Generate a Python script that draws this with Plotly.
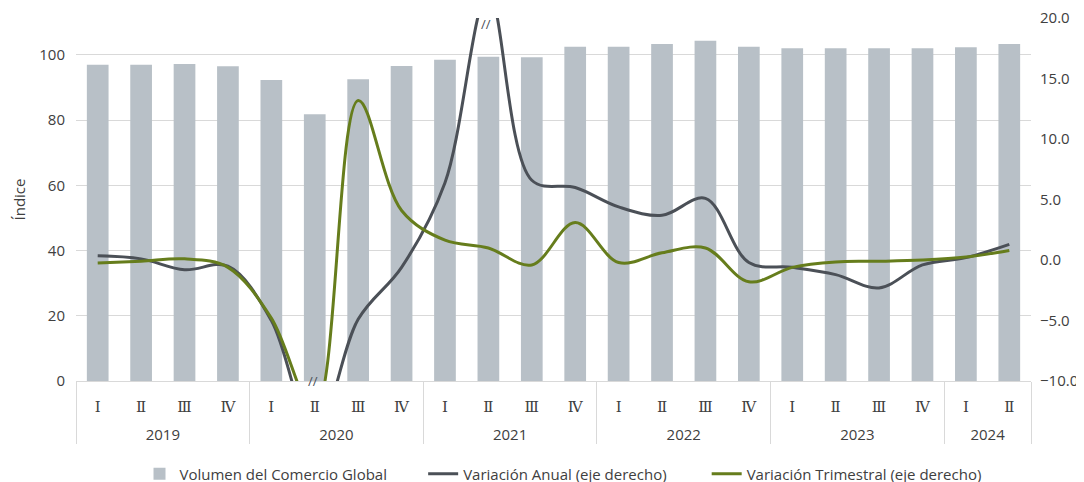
import plotly.graph_objects as go

years = ["2019"] * 4 + ["2020"] * 4 + ["2021"] * 4 + ["2022"] * 4 + ["2023"] * 4 + ["2024"] * 2
quarter_names = ["Ⅰ", "Ⅱ", "Ⅲ", "Ⅳ"] * 5 + ["Ⅰ", "Ⅱ"]

volumen = [97.0, 97.0, 97.2, 96.5, 92.3, 81.8, 92.5, 96.6, 98.5, 99.4, 99.3, 102.5,
           102.5, 103.3, 104.3, 102.5, 102.0, 102.0, 102.0, 102.0, 102.3, 103.3]
var_anual = [0.35, 0.1, -0.8, -0.5, -5.0, -14.5, -4.9, -0.6, 6.4, 22.0, 6.6, 6.0,
             4.4, 3.7, 5.1, -0.2, -0.6, -1.2, -2.3, -0.4, 0.2, 1.3]
var_trim = [-0.25, -0.1, 0.1, -0.6, -4.8, -12.5, 13.2, 4.1, 1.65, 1.0, -0.4, 3.1,
            -0.2, 0.6, 1.0, -1.8, -0.6, -0.15, -0.1, 0.0, 0.25, 0.8]
right_ticks = [-10, -5, 0, 5, 10, 15, 20]

quarters = ['<span style="font-family:DejaVu Serif">%s</span>' % q for q in quarter_names]
year_labels = ["<br>" + y for y in years]
x = [year_labels, quarters]
txt = "#404040"
nb = "\u00a0"

fig = go.Figure()
fig.add_trace(go.Bar(x=x, y=volumen, name="Volumen del Comercio Global" + nb * 8,
                     marker=dict(color="#B8C0C7", line=dict(width=0))))
fig.add_trace(go.Scatter(x=x, y=var_anual, name="Variación Anual (eje derecho)" + nb * 9, yaxis="y2",
                         mode="lines", line=dict(color="#4B5057", width=3, shape="spline", smoothing=1.0)))
fig.add_trace(go.Scatter(x=x, y=var_trim, name="Variación Trimestral (eje derecho)", yaxis="y2",
                         mode="lines", line=dict(color="#667D1C", width=3, shape="spline", smoothing=1.0)))

# axis break marks
fig.add_annotation(x=8.95, y=19.55, xref="x", yref="y2", text="//", showarrow=False,
                   font=dict(size=13, color="#4B5057"), yanchor="middle")
fig.add_annotation(x=4.95, y=-10, xref="x", yref="y2", text="//", showarrow=False,
                   font=dict(size=13, color="#4B5057"), yanchor="middle")

# page body has an 8px default margin: offsets below compensate
fig.update_layout(
    width=1084, height=482,
    margin=dict(l=68, r=61, t=10, b=109),
    paper_bgcolor="white", plot_bgcolor="white",
    font=dict(family="Open Sans, sans-serif", size=15, color=txt),
    bargap=0.5,
    showlegend=True,
    legend=dict(orientation="h", xref="container", yref="container",
                x=0.512, xanchor="center", y=0.033, yanchor="middle",
                font=dict(size=15, color=txt), tracegroupgap=0, itemwidth=30),
    xaxis=dict(type="multicategory", showline=True, linecolor="#D9D9D9", linewidth=1,
               showdividers=True, dividercolor="#D9D9D9", dividerwidth=1,
               ticks="", tickfont=dict(family="Open Sans, sans-serif", size=15, color=txt),
               showgrid=False, automargin=False, ticklabelstandoff=12),
    yaxis=dict(range=[0, 111.3], dtick=20, tick0=0, showgrid=True, gridcolor="#D9D9D9",
               zeroline=False, showline=False, ticks="", automargin=False,
               ticklabelstandoff=10, ticklabeloverflow="allow",
               title=dict(text="Índice", font=dict(size=15, color=txt), standoff=10),
               tickfont=dict(size=15, color=txt)),
    yaxis2=dict(range=[-10, 20.02], tickmode="array", tickvals=right_ticks,
                overlaying="y", side="right",
                showgrid=False, zeroline=False, showline=False, tickformat=".1f",
                ticks="", automargin=False, ticklabelstandoff=8, ticklabeloverflow="allow",
                tickfont=dict(size=15, color=txt)),
)

fig.write_html("out.html")
